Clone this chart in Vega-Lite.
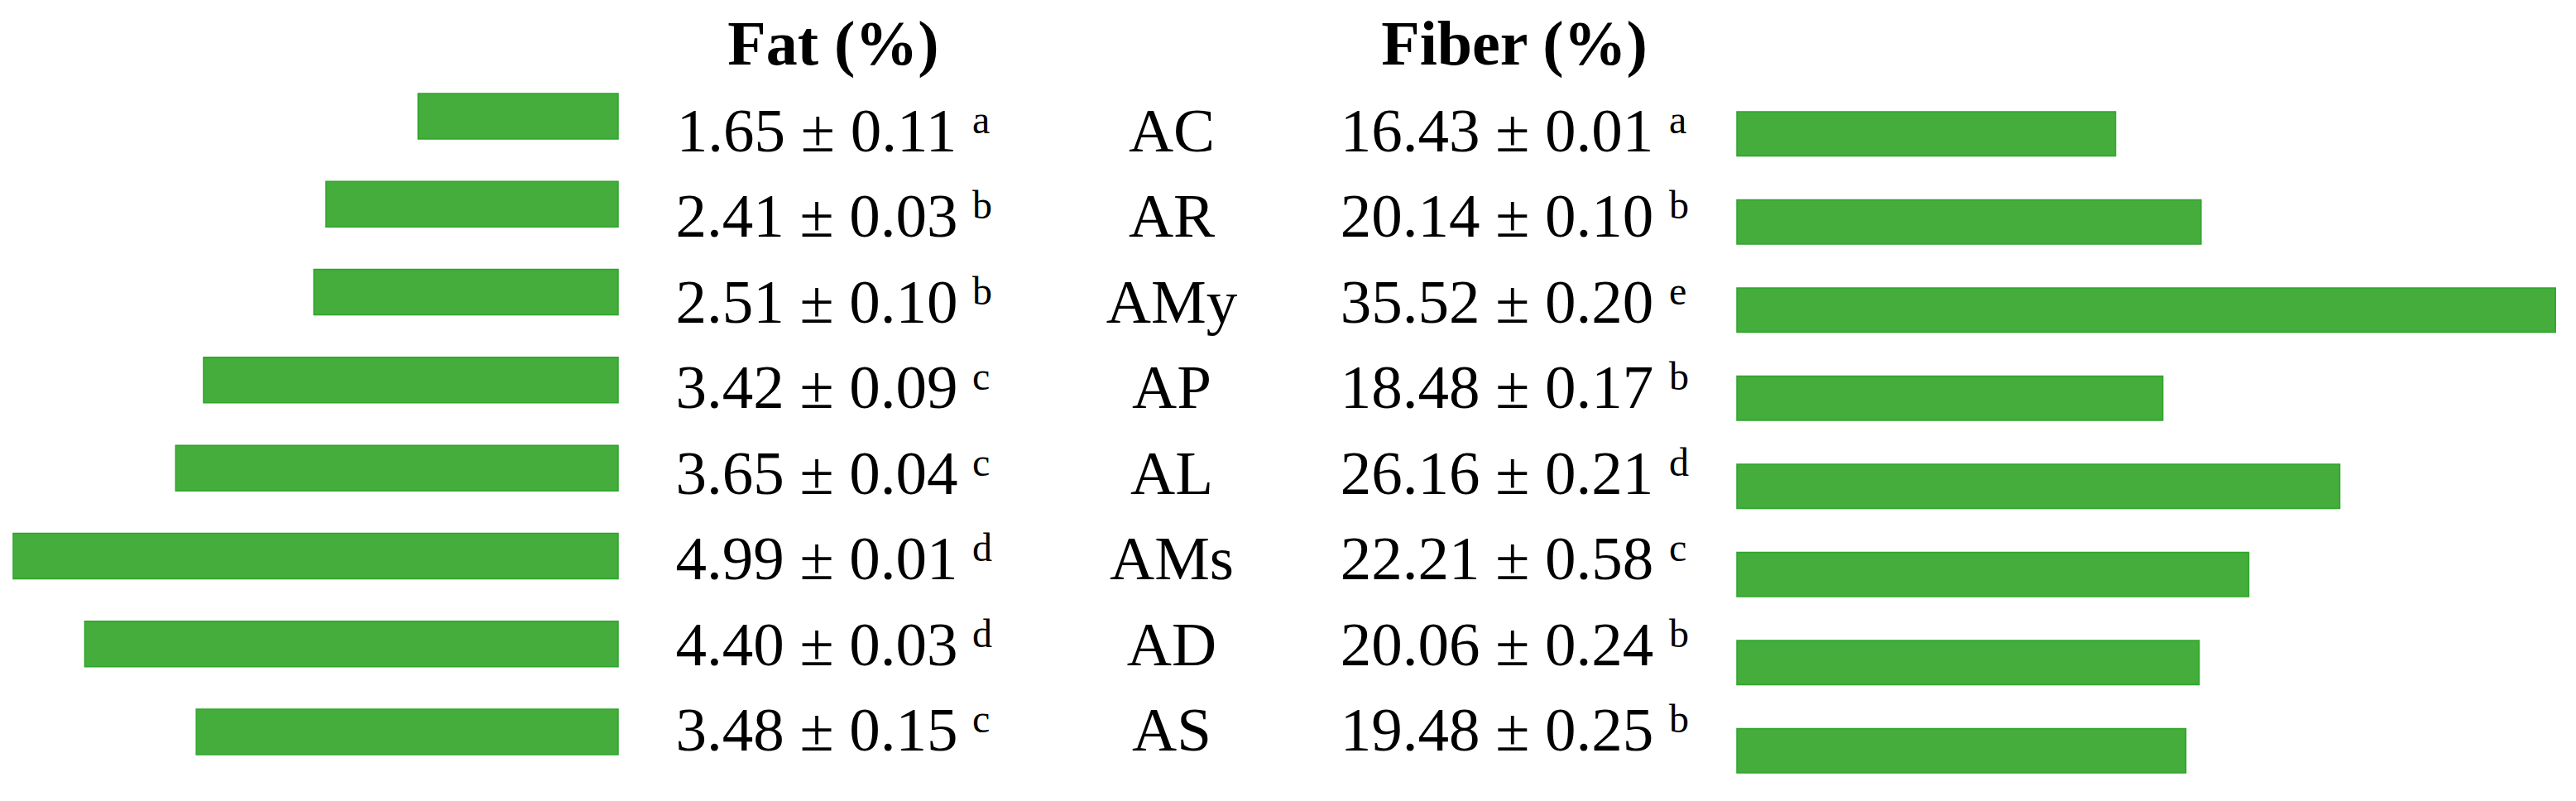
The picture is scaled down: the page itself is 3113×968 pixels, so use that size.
{
  "$schema": "https://vega.github.io/schema/vega-lite/v6.json",
  "padding": 0,
  "background": "white",
  "config": {"view": {"stroke": null}, "text": {"font": "Liberation Serif", "color": "black"}},
  "datasets": {
    "rows": [
      {"sample": "AC", "fat": 1.65, "fat_text": "1.65 ± 0.11", "fat_letter": "a", "fiber": 16.43, "fiber_text": "16.43 ± 0.01", "fiber_letter": "a"},
      {"sample": "AR", "fat": 2.41, "fat_text": "2.41 ± 0.03", "fat_letter": "b", "fiber": 20.14, "fiber_text": "20.14 ± 0.10", "fiber_letter": "b"},
      {"sample": "AMy", "fat": 2.51, "fat_text": "2.51 ± 0.10", "fat_letter": "b", "fiber": 35.52, "fiber_text": "35.52 ± 0.20", "fiber_letter": "e"},
      {"sample": "AP", "fat": 3.42, "fat_text": "3.42 ± 0.09", "fat_letter": "c", "fiber": 18.48, "fiber_text": "18.48 ± 0.17", "fiber_letter": "b"},
      {"sample": "AL", "fat": 3.65, "fat_text": "3.65 ± 0.04", "fat_letter": "c", "fiber": 26.16, "fiber_text": "26.16 ± 0.21", "fiber_letter": "d"},
      {"sample": "AMs", "fat": 4.99, "fat_text": "4.99 ± 0.01", "fat_letter": "d", "fiber": 22.21, "fiber_text": "22.21 ± 0.58", "fiber_letter": "c"},
      {"sample": "AD", "fat": 4.40, "fat_text": "4.40 ± 0.03", "fat_letter": "d", "fiber": 20.06, "fiber_text": "20.06 ± 0.24", "fiber_letter": "b"},
      {"sample": "AS", "fat": 3.48, "fat_text": "3.48 ± 0.15", "fat_letter": "c", "fiber": 19.48, "fiber_text": "19.48 ± 0.25", "fiber_letter": "b"}
    ],
    "titles": [{"fat_title": "Fat (%)", "fiber_title": "Fiber (%)"}]
  },
  "vconcat": [
    {
      "hconcat": [
        {"width": 594, "height": 110, "data": {"name": "titles"}, "mark": {"type": "text", "text": ""}},
        {"width": 826, "height": 110, "data": {"name": "titles"},
         "mark": {"type": "text", "fontSize": 76, "fontWeight": "bold", "baseline": "middle", "align": "center"},
         "encoding": {"text": {"field": "fat_title"}}},
        {"width": 820, "height": 110, "data": {"name": "titles"},
         "mark": {"type": "text", "fontSize": 76, "fontWeight": "bold", "baseline": "middle", "align": "center"},
         "encoding": {"text": {"field": "fiber_title"}}}
      ],
      "spacing": 0, "bounds": "flush"
    },
    {
      "hconcat": [
        {
          "width": 747, "height": 805, "data": {"name": "rows"},
          "mark": {"type": "bar", "color": "#44AD3C", "stroke": "#2EA52B", "strokeWidth": 1.5},
          "encoding": {
            "y": {"field": "sample", "type": "nominal", "sort": null, "axis": null, "scale": {"paddingInner": 0.4826, "paddingOuter": 0.0282}},
            "x": {"field": "fat", "type": "quantitative", "axis": null, "scale": {"domain": [0, 5.099], "reverse": true, "nice": false}}
          }
        },
        {
          "width": 480, "height": 870, "data": {"name": "rows"},
          "encoding": {
            "y": {"field": "sample", "type": "nominal", "sort": null, "axis": null, "scale": {"type": "point", "padding": 0.7005}}
          },
          "layer": [
            {"mark": {"type": "text", "fontSize": 75, "baseline": "alphabetic", "align": "center"},
             "encoding": {"text": {"field": "fat_text"}}},
            {"mark": {"type": "text", "fontSize": 48, "baseline": "alphabetic", "align": "left", "dx": 188, "dy": -22},
             "encoding": {"text": {"field": "fat_letter"}}}
          ]
        },
        {
          "width": 378, "height": 870, "data": {"name": "rows"},
          "mark": {"type": "text", "fontSize": 75, "baseline": "alphabetic", "align": "center"},
          "encoding": {
            "y": {"field": "sample", "type": "nominal", "sort": null, "axis": null, "scale": {"type": "point", "padding": 0.7005}},
            "text": {"field": "sample"}
          }
        },
        {
          "width": 408, "height": 870, "data": {"name": "rows"},
          "encoding": {
            "y": {"field": "sample", "type": "nominal", "sort": null, "axis": null, "scale": {"type": "point", "padding": 0.7005}}
          },
          "layer": [
            {"mark": {"type": "text", "fontSize": 75, "baseline": "alphabetic", "align": "center"},
             "encoding": {"text": {"field": "fiber_text"}}},
            {"mark": {"type": "text", "fontSize": 48, "baseline": "alphabetic", "align": "left", "dx": 208, "dy": -22},
             "encoding": {"text": {"field": "fiber_letter"}}}
          ]
        },
        {
          "width": 1100, "height": 849, "data": {"name": "rows"},
          "mark": {"type": "bar", "color": "#44AD3C", "stroke": "#2EA52B", "strokeWidth": 1.5},
          "encoding": {
            "y": {"field": "sample", "type": "nominal", "sort": null, "axis": null, "scale": {"paddingInner": 0.498, "paddingOuter": 0.2346}},
            "x": {"field": "fiber", "type": "quantitative", "axis": null, "scale": {"domain": [-3.088, 36.41], "nice": false, "zero": false}}
          }
        }
      ],
      "spacing": 0, "bounds": "flush"
    }
  ],
  "spacing": 0
}
